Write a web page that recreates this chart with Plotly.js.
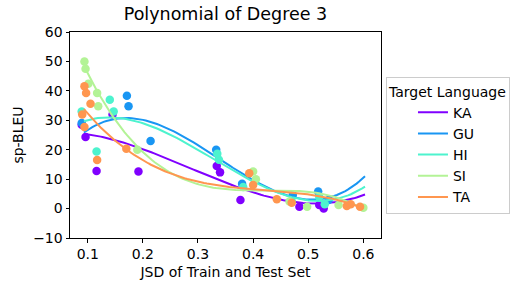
<!DOCTYPE html>
<html><head><meta charset="utf-8">
<script src="https://cdn.plot.ly/plotly-3.0.1.min.js"></script>
<style>html,body{margin:0;padding:0;background:#fff}#chart{width:524px;height:290px}</style>
</head><body><div id="chart"></div>
<script>
const languages = ["KA", "GU", "HI", "SI", "TA"];
const colors = ["#8000ff", "#1996f3", "#4df3ce", "#b3f396", "#ff964f"];

// scatter points (JSD, sp-BLEU)
const kaX = [0.089, 0.096, 0.116, 0.145, 0.192, 0.334, 0.340, 0.377, 0.484, 0.520, 0.528];
const kaY = [28.5, 24.3, 12.8, 32.0, 12.6, 14.5, 12.3, 2.9, 0.6, 1.2, 0.0];
const guX = [0.089, 0.171, 0.174, 0.214, 0.333, 0.380, 0.472, 0.518, 0.537];
const guY = [29.1, 38.3, 34.8, 23.0, 20.0, 8.4, 4.6, 5.8, 2.9];
const hiX = [0.089, 0.116, 0.140, 0.147, 0.335, 0.338, 0.382, 0.470, 0.520, 0.530];
const hiY = [33.0, 19.4, 37.0, 33.0, 18.6, 16.6, 7.3, 2.5, 3.9, 1.5];
const siX = [0.094, 0.096, 0.101, 0.117, 0.119, 0.190, 0.400, 0.405, 0.466, 0.498, 0.555, 0.600];
const siY = [50.0, 47.5, 42.4, 39.3, 34.8, 20.0, 12.6, 10.0, 2.4, 0.6, 1.2, 0.3];
const taX = [0.090, 0.094, 0.094, 0.097, 0.105, 0.117, 0.170, 0.393, 0.400, 0.443, 0.470, 0.570, 0.577, 0.594];
const taY = [32.0, 41.6, 27.7, 39.3, 35.6, 16.5, 20.3, 12.0, 8.0, 3.2, 2.0, 0.9, 1.5, 0.6];

// degree-3 fit curves
const kaFitX = [0.093, 0.159, 0.250, 0.340, 0.359, 0.431, 0.485, 0.540, 0.603];
const kaFitY = [25.5, 22.8, 16.0, 9.8, 8.6, 3.9, 1.8, 1.6, 5.0];
const guFitX = [0.093, 0.129, 0.177, 0.250, 0.310, 0.340, 0.400, 0.461, 0.521, 0.557, 0.603];
const guFitY = [25.7, 29.7, 30.8, 26.8, 20.0, 16.6, 9.8, 5.2, 3.2, 3.9, 11.5];
const hiFitX = [0.093, 0.159, 0.250, 0.340, 0.359, 0.400, 0.461, 0.521, 0.603];
const hiFitY = [29.7, 30.5, 25.7, 14.9, 13.8, 8.6, 4.6, 2.9, 7.3];
const siFitX = [0.096, 0.129, 0.165, 0.201, 0.250, 0.359, 0.431, 0.521, 0.582, 0.600];
const siFitY = [46.2, 38.2, 26.8, 17.7, 11.5, 7.3, 6.3, 4.6, 1.5, 0.0];
const taFitX = [0.093, 0.165, 0.250, 0.340, 0.359, 0.431, 0.521, 0.600];
const taFitY = [33.7, 21.1, 11.5, 7.7, 7.5, 6.3, 3.9, 0.2];

const xs = [kaX, guX, hiX, siX, taX];
const ys = [kaY, guY, hiY, siY, taY];
const fitXs = [kaFitX, guFitX, hiFitX, siFitX, taFitX];
const fitYs = [kaFitY, guFitY, hiFitY, siFitY, taFitY];

function polyfit(x, y, deg) {
  const n = deg + 1;
  const A = Array.from({length: n}, () => new Array(n + 1).fill(0));
  for (let k = 0; k < x.length; k++) {
    const p = [];
    for (let i = 0; i < n; i++) p.push(Math.pow(x[k], i));
    for (let i = 0; i < n; i++) {
      for (let j = 0; j < n; j++) A[i][j] += p[i] * p[j];
      A[i][n] += p[i] * y[k];
    }
  }
  for (let i = 0; i < n; i++) {
    let m = i;
    for (let r = i + 1; r < n; r++) if (Math.abs(A[r][i]) > Math.abs(A[m][i])) m = r;
    [A[i], A[m]] = [A[m], A[i]];
    for (let r = 0; r < n; r++) {
      if (r === i) continue;
      const f = A[r][i] / A[i][i];
      for (let c = i; c <= n; c++) A[r][c] -= f * A[i][c];
    }
  }
  return A.map((row, i) => row[n] / row[i]);
}

const traces = [];
languages.forEach((lang, i) => {
  traces.push({x: xs[i], y: ys[i], type: 'scatter', mode: 'markers',
    marker: {color: colors[i], size: 8.5}, showlegend: false, hoverinfo: 'skip'});
  const c = polyfit(fitXs[i], fitYs[i], 3);
  const lo = Math.min(...fitXs[i]), hi = Math.max(...fitXs[i]);
  const fx = [], fy = [];
  for (let k = 0; k <= 100; k++) {
    const xv = lo + (hi - lo) * k / 100;
    fx.push(xv);
    fy.push(c[0] + c[1] * xv + c[2] * xv * xv + c[3] * xv * xv * xv);
  }
  traces.push({x: fx, y: fy, type: 'scatter', mode: 'lines', name: lang,
    line: {color: colors[i], width: 2}});
});

const axisStyle = {showline: true, linecolor: '#000', linewidth: 1, mirror: true,
  ticks: 'outside', ticklen: 3.5, tickcolor: '#000', showgrid: false, zeroline: false,
  tickfont: {size: 14, color: '#000'}};

const layout = {
  width: 524, height: 290,
  margin: {l: 70, r: 143, t: 32, b: 52},
  paper_bgcolor: '#fff', plot_bgcolor: '#fff',
  font: {family: 'DejaVu Sans', color: '#000', size: 14},
  title: {text: 'Polynomial of Degree 3', font: {size: 17.5}, x: 0.5, xref: 'paper', y: 0.975, yanchor: 'top'},
  xaxis: Object.assign({}, axisStyle, {range: [0.0678, 0.632], tickvals: [0.1, 0.2, 0.3, 0.4, 0.5, 0.6],
    ticktext: ['0.1', '0.2', '0.3', '0.4', '0.5', '0.6'],
    title: {text: 'JSD of Train and Test Set', font: {size: 14}, standoff: 5}}),
  yaxis: Object.assign({}, axisStyle, {range: [-10, 60], tickvals: [-10, 0, 10, 20, 30, 40, 50, 60],
    ticktext: ['\u221210', '0', '10', '20', '30', '40', '50', '60'],
    title: {text: 'sp-BLEU', font: {size: 14}, standoff: 6}}),
  legend: {title: {text: 'Target Language', font: {size: 14}}, x: 1.016, xanchor: 'left', y: 0.447, yanchor: 'middle',
    bordercolor: '#cccccc', borderwidth: 1, bgcolor: '#fff', font: {size: 14}, tracegroupgap: 0,
    indentation: 26},
  showlegend: true
};

Plotly.newPlot('chart', traces, layout, {displayModeBar: false, staticPlot: true});
</script></body></html>
